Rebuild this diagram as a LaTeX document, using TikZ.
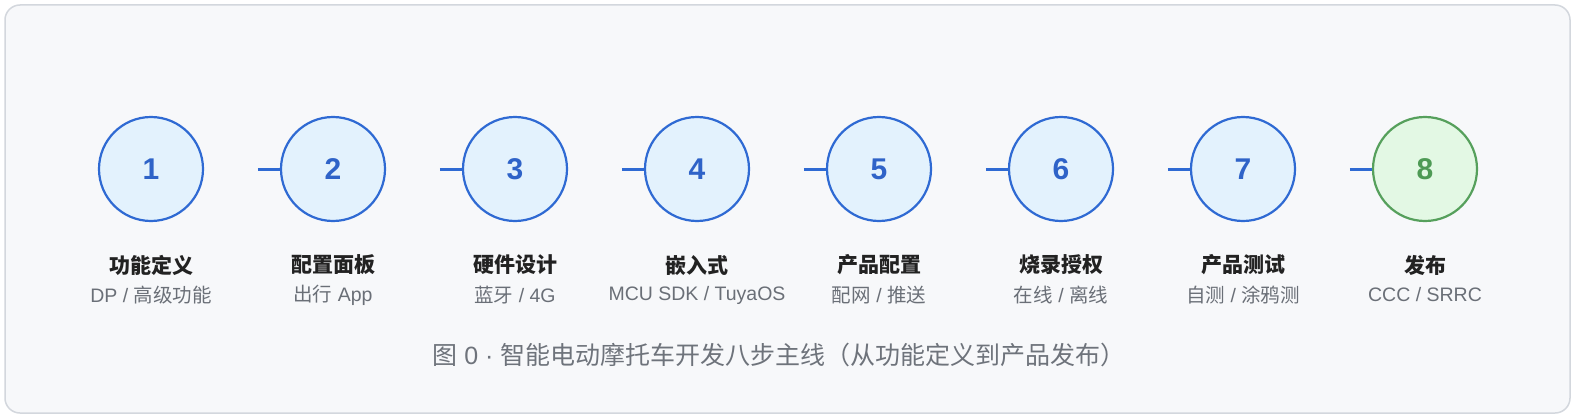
\documentclass[tikz,border=0pt]{standalone}
\usepackage{fontspec}
\usetikzlibrary{calc}
\setmainfont{Liberation Sans}
\setsansfont{Liberation Sans}
\newfontfamily\cjk{Noto Sans CJK SC}
\begin{document}
\begin{tikzpicture}[x=1pt,y=-1pt,
  stepcirc/.style={circle,minimum size=104pt,inner sep=0pt,line width=2.2pt,draw=stepblue,fill=stepfill,text=numblue,font=\fontsize{30}{31}\selectfont\bfseries},
  finalcirc/.style={stepcirc,draw=stepgreen,fill=greenfill,text=numgreen},
  ttl/.style={font=\cjk\fontsize{21}{23}\selectfont\bfseries,text=titlec,inner sep=0pt},
  sub/.style={font=\fontsize{19.5}{21}\selectfont,text=subc,inner sep=0pt},
  stub/.style={line width=3pt,draw=stepblue},
]
\definecolor{stepblue}{HTML}{2F6AD3}
\definecolor{stepfill}{HTML}{E3F2FD}
\definecolor{numblue}{HTML}{2F63C8}
\definecolor{stepgreen}{HTML}{56A05C}
\definecolor{greenfill}{HTML}{E3F8E4}
\definecolor{numgreen}{HTML}{4E9A55}
\definecolor{titlec}{HTML}{222222}
\definecolor{subc}{HTML}{6A6F77}
\definecolor{capc}{HTML}{6E737B}
\definecolor{bgc}{HTML}{F7F8FA}
\definecolor{bordc}{HTML}{D3D7DD}
\useasboundingbox (0,0) rectangle (1576,420);
\fill[white] (0,0) rectangle (1576,420);
\draw[draw=bordc,fill=bgc,line width=1.5pt,rounded corners=15pt] (5,5) rectangle (1570,413);
\foreach \i/\t/\s in {1/功能定义/{DP / {\cjk 高级功能}},2/配置面板/{{\cjk 出行} App},3/硬件设计/{{\cjk 蓝牙} / 4G},4/嵌入式/{MCU SDK / TuyaOS},5/产品配置/{{\cjk 配网} / {\cjk 推送}},6/烧录授权/{{\cjk 在线} / {\cjk 离线}},7/产品测试/{{\cjk 自测} / {\cjk 涂鸦测}}} {
  \node[stepcirc] (c\i) at ({151+182*(\i-1)},169) {\i};
  \node[ttl] (t\i) at ({151+182*(\i-1)},265) {\t};
  \node[sub] (s\i) at ({151+182*(\i-1)},295) {\s};
}
\node[finalcirc] (c8) at (1425,169) {8};
\node[ttl] (t8) at (1425,265) {发布};
\node[sub] (s8) at (1425,295) {CCC / SRRC};
\foreach \i in {2,...,8} {
  \coordinate (a\i) at ($(c\i.west)+(-22,0)$);
  \draw[stub] (a\i) -- (c\i.west);
}
\node[inner sep=0pt,font=\fontsize{25}{27}\selectfont,text=capc] (cap) at (779,355) {{\cjk 图} 0 · {\cjk 智能电动摩托车开发八步主线（从功能定义到产品发布）}};
\end{tikzpicture}
\end{document}
